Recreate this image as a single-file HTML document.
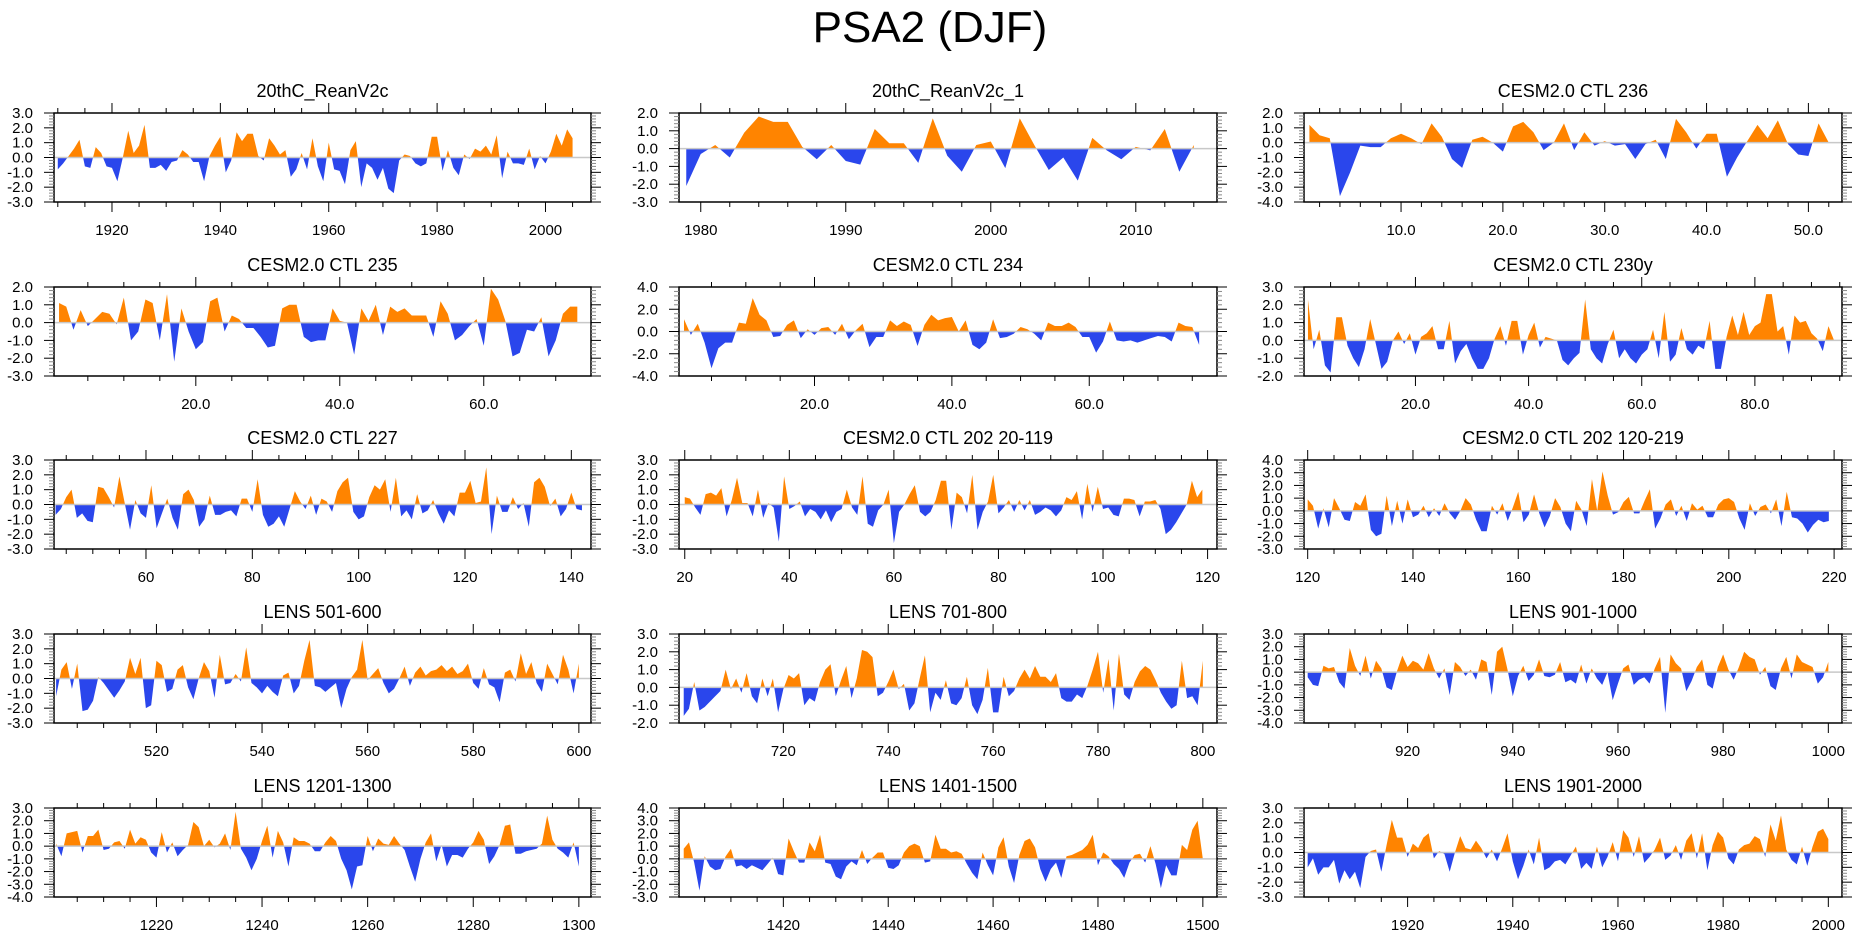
<!DOCTYPE html>
<html><head><meta charset="utf-8"><style>
body{margin:0;background:#fff;}
svg{display:block;font-family:"Liberation Sans",Arial,sans-serif;}
</style></head><body>
<svg id="chart" width="1861" height="936" viewBox="0 0 1861 936">
<text x="930" y="42" text-anchor="middle" font-size="44">PSA2 (DJF)</text>
</svg>
<script>
const titles = ["20thC_ReanV2c","20thC_ReanV2c_1","CESM2.0 CTL 236","CESM2.0 CTL 235","CESM2.0 CTL 234","CESM2.0 CTL 230y","CESM2.0 CTL 227","CESM2.0 CTL 202 20-119","CESM2.0 CTL 202 120-219","LENS 501-600","LENS 701-800","LENS 901-1000","LENS 1201-1300","LENS 1401-1500","LENS 1901-2000"];
const startYears = [1910,1979,1,1,1,1,43,20,120,501,701,901,1201,1401,1901];
const xDomains = [[1909.3,2008.4],[1978.5,2015.6],[0.47,53.3],[0.3,74.9],[0.27,78.6],[0.3,95.4],[42.7,143.7],[18.9,121.8],[119.3,221.5],[500.6,602.3],[700.1,802.7],[900.3,1002.6],[1200.6,1302.3],[1400.1,1502.7],[1900.3,2002.6]];
const yDomains = [[-3,3],[-3,2],[-4,2],[-3,2],[-4,4],[-2,3],[-3,3],[-3,3],[-3,4],[-3,3],[-2,3],[-4,3],[-4,3],[-3,4],[-3,3]];
const xMajorSteps = [20,10,10,20,20,20,20,20,20,20,20,20,20,20,20];
const xMinorSteps = [5,2,2,5,5,5,5,5,5,5,5,5,5,5,5];
const xDecimals = [0,0,1,1,1,1,0,0,0,0,0,0,0,0,0];
const yLabelSteps = [1,1,1,1,2,1,1,1,1,1,1,1,1,1,1];

const s0 = [-0.8,-0.4,0.1,0.6,1.2,-0.6,-0.7,0.7,0.3,-0.6,-0.7,-1.6,0.0,1.8,0.3,0.8,2.2,-0.7,-0.7,-0.5,-0.9,-0.3,-0.2,0.5,0.2,-0.3,-0.3,-1.6,0.1,0.8,1.4,-1.0,-0.2,1.7,1.1,1.6,1.6,0.1,-0.2,1.3,0.8,0.2,0.5,-1.3,-0.8,0.3,-0.8,1.3,-0.6,-1.6,1.0,-0.8,-0.9,-1.8,0.5,1.1,-2.0,-0.4,-0.7,-1.5,-0.7,-2.1,-2.4,-0.2,0.2,0.1,-0.4,-0.6,-0.4,1.4,1.4,-0.9,0.5,-0.7,-1.2,0.2,-0.1,0.6,0.4,0.8,0.2,1.5,-1.4,0.4,-0.4,-0.4,-0.5,0.6,-0.8,0.1,-0.4,0.4,1.6,0.8,1.9,1.3];
const s1 = [-2.1,-0.3,0.2,-0.5,0.9,1.8,1.5,1.5,0.1,-0.6,0.2,-0.7,-0.9,1.1,0.3,0.3,-0.8,1.7,-0.4,-1.3,0.2,0.4,-1.1,1.7,0.2,-1.2,-0.5,-1.8,0.6,-0.1,-0.6,0.1,-0.1,1.1,-1.3,0.2];
const s2 = [1.2,0.5,0.3,-3.6,-2.0,-0.2,-0.3,-0.3,0.3,0.6,0.3,-0.1,1.3,0.4,-1.1,-1.7,0.2,0.4,0.0,-0.6,1.1,1.4,0.7,-0.5,0.0,1.3,-0.5,0.7,-0.2,0.1,-0.2,-0.1,-1.1,-0.1,0.2,-1.1,1.6,0.7,-0.4,0.6,0.6,-2.3,-1.0,0.1,1.2,0.3,1.5,-0.1,-0.8,-0.9,1.3,0.0];
const s3 = [1.1,0.9,-0.4,0.7,-0.2,0.2,0.6,0.5,-0.1,1.4,-1.0,-0.5,1.3,1.1,-1.0,1.6,-2.2,0.8,-0.5,-1.5,-1.1,1.2,1.4,-0.5,0.4,0.2,-0.3,-0.3,-0.8,-1.4,-1.3,0.8,1.0,1.0,-0.8,-1.1,-1.0,-1.0,0.8,0.1,0.0,-1.8,0.8,0.1,1.0,-0.7,0.9,0.6,0.8,0.4,0.4,0.4,-0.8,1.2,0.5,-1.0,-0.7,-0.2,0.2,-1.3,1.9,1.3,0.1,-1.9,-1.7,-0.4,-0.5,0.3,-1.9,-1.0,0.5,0.9,0.9];
const s4 = [1.1,-0.3,0.7,-1.0,-3.3,-1.5,-1.0,-1.0,0.8,0.7,3.0,1.5,1.0,-0.5,-0.4,0.6,1.0,-0.6,0.2,-0.3,0.3,0.4,-0.3,0.7,-0.7,0.1,0.7,-1.4,-0.5,-0.5,1.0,0.5,0.9,0.6,-1.3,0.6,1.5,1.0,1.2,1.3,0.0,1.0,-1.2,-1.6,-1.0,1.1,-0.6,-0.5,-0.2,0.4,0.2,-0.2,-0.8,0.8,0.5,0.5,0.8,0.4,-0.5,-0.5,-1.9,-0.9,0.9,-0.8,-0.9,-0.8,-1.0,-0.8,-0.6,-0.4,-0.5,-0.9,0.8,0.5,0.4,-1.2];
const s5 = [2.3,-0.5,0.6,-1.4,-1.8,1.3,1.3,-0.3,-1.0,-1.5,-0.5,1.2,-0.2,-1.6,-1.2,0.0,0.5,-0.2,0.4,-0.8,0.2,0.4,0.8,-0.5,-0.5,1.1,-1.3,-0.6,-0.2,-1.0,-1.6,-1.6,-1.0,0.1,0.8,-0.3,1.1,1.1,-0.8,0.3,1.0,-0.4,0.2,0.1,0.0,-1.1,-1.4,-1.0,-0.7,2.3,-0.5,-1.0,-1.3,-0.2,0.6,-1.0,-0.5,-1.0,-1.3,-0.8,-0.5,0.6,-1.0,1.6,-1.2,-0.8,0.7,-0.5,-0.8,-0.3,-0.5,1.1,-1.6,-1.6,0.2,1.4,0.3,1.6,0.3,0.8,1.0,2.6,2.6,0.5,0.8,-0.8,1.4,1.0,1.1,0.4,0.1,-0.6,0.8,0.0];
const s6 = [-0.7,-0.3,0.5,1.0,-0.9,-0.6,-1.1,-1.2,1.2,1.1,0.5,-0.2,1.9,0.1,-1.7,0.3,-0.6,-0.9,1.3,-1.6,-0.6,0.4,-0.9,-1.7,0.7,1.0,0.3,-1.5,-1.0,0.6,-0.7,-0.7,-0.5,-0.4,-0.8,0.4,0.4,-0.5,1.7,-0.7,-1.5,-1.3,-0.8,-1.5,-0.3,0.9,0.2,-0.3,0.6,-0.7,0.4,0.2,-0.5,0.9,1.5,1.8,-0.5,-1.0,-0.8,0.5,1.3,1.0,1.7,-0.5,1.8,-0.8,-0.4,-1.0,0.7,-0.6,-0.4,0.3,-0.6,-1.3,-0.4,-0.8,0.8,0.8,1.6,0.1,0.2,2.5,-2.0,0.6,-0.5,-0.5,0.5,-0.3,0.1,-1.5,1.5,1.8,1.2,-0.1,0.4,-0.8,-0.3,0.8,-0.3,-0.4];
const s7 = [0.5,0.4,-0.2,-0.7,0.7,0.8,0.6,1.1,-0.8,0.3,1.8,0.1,0.1,-0.8,1.0,-0.9,0.1,-0.2,-2.5,1.9,-0.3,-0.1,0.2,-0.8,-0.3,-0.5,-1.0,-0.4,-1.2,-0.5,-0.3,1.0,-0.2,-0.7,1.9,-1.3,-1.5,-0.4,0.0,1.0,-2.6,-0.5,0.0,0.7,1.3,-0.5,-0.8,-0.5,0.3,1.6,1.6,-1.7,0.8,0.5,-0.6,2.0,-1.7,-0.5,0.2,2.0,-0.6,-0.2,0.3,-0.5,0.3,-0.4,0.3,-0.7,-0.5,-0.2,-0.4,-0.8,-0.4,0.5,0.3,0.9,-1.0,1.4,-0.5,1.2,-0.3,-0.2,-0.7,-0.8,0.4,0.4,0.3,-0.8,0.2,0.2,0.3,-0.3,-2.0,-1.7,-1.2,-0.6,0.0,1.6,0.5,1.0];
const s8 = [0.9,0.4,-1.4,0.2,-1.3,1.0,0.2,-0.7,-0.8,0.7,0.4,1.3,-1.5,-2.0,-1.8,1.2,-1.2,0.8,-1.0,0.9,-0.5,-0.3,0.4,-0.5,0.2,-0.4,0.6,-0.2,-0.7,0.0,1.0,0.5,-0.7,-1.6,-1.6,0.4,-0.3,0.6,-0.8,0.3,1.5,-0.9,-0.3,1.3,-0.2,-1.3,-0.4,1.0,0.3,-1.0,-1.6,0.8,0.1,-1.2,2.5,0.0,3.1,1.2,-0.3,-0.1,0.7,1.1,-0.2,-0.2,0.8,1.7,-1.4,-0.6,0.5,0.9,-0.4,0.4,-0.8,0.6,0.1,0.4,-0.5,-0.5,0.5,0.9,1.0,0.7,-0.6,-1.5,0.6,-0.4,0.3,0.5,-0.2,0.9,-1.2,1.5,-0.5,-0.6,-1.0,-1.7,-1.1,-0.7,-0.9,-0.8];
const s9 = [-1.2,0.6,1.1,-0.7,1.0,-2.2,-2.1,-1.5,0.1,-0.3,-0.8,-1.3,-0.8,-0.2,1.4,0.3,1.4,-2.0,-1.8,1.2,0.9,-0.9,-0.7,0.6,0.9,-0.6,-1.4,0.0,1.1,0.5,-1.3,1.6,-0.4,-0.3,0.3,-0.2,2.1,-0.3,-0.6,-1.0,-0.5,-0.9,-1.2,0.2,0.4,-1.0,-0.5,1.2,2.6,-0.5,-0.6,-0.9,-0.6,-0.3,-2.0,-0.7,0.1,0.6,2.6,-0.1,0.3,0.7,-0.3,-1.0,-0.7,0.0,0.8,-0.5,0.4,0.8,0.2,0.5,0.6,0.9,0.5,0.8,0.3,0.5,1.0,-0.3,-0.7,0.7,-0.4,-0.6,-1.6,0.4,0.6,-0.2,1.7,0.3,1.1,-0.3,-0.9,1.0,0.3,-0.4,1.6,0.6,-1.0,1.0];
const s10 = [-1.6,-1.2,0.3,-1.3,-1.1,-0.8,-0.5,-0.2,1.0,-0.1,0.5,-0.3,0.8,-0.5,-0.9,0.5,-0.5,0.5,-1.4,-0.1,0.7,0.5,0.8,-1.0,-0.6,-0.8,0.3,1.0,1.3,-0.5,0.4,1.2,-0.6,0.5,2.1,2.0,1.7,-0.5,-0.3,0.3,1.0,-0.1,0.2,-1.3,-0.9,0.5,1.8,-1.4,-0.3,-0.7,0.4,-0.9,-1.0,-0.6,0.6,-1.0,-1.5,-0.7,1.1,-1.4,-1.4,0.6,-0.5,-0.2,0.5,1.0,0.5,1.2,0.6,0.6,0.3,0.8,-0.6,-0.8,-0.8,-0.4,-0.6,0.1,1.0,2.0,-0.3,1.6,-1.3,1.9,-0.4,-0.7,0.3,0.9,1.2,1.0,0.4,-0.3,-0.8,-1.2,-1.0,1.5,-0.6,-0.5,-1.0,1.5];
const s11 = [-0.4,-1.0,-1.1,0.5,0.3,0.4,-0.8,-1.3,1.9,0.5,-0.3,1.3,-0.5,0.9,0.3,-1.2,-1.4,0.1,1.3,0.4,0.9,0.7,0.2,1.5,0.3,-0.5,0.3,-1.8,0.8,0.4,-0.3,0.2,-0.6,1.0,0.8,-1.8,1.6,2.0,0.2,-1.9,-0.3,0.5,-0.7,-0.2,1.0,-0.3,-0.4,-0.2,0.8,-0.8,-0.6,-0.9,0.6,-0.9,0.3,-0.5,-1.0,0.0,-2.2,-0.9,0.3,0.6,-1.0,-0.6,-0.4,-0.9,0.3,1.2,-3.2,1.4,0.7,0.3,-1.5,-0.7,0.4,1.0,-1.0,-1.3,0.4,1.4,0.2,-0.6,0.4,1.6,1.2,1.0,-0.2,0.4,-1.1,-1.4,0.3,1.2,-0.5,1.4,0.8,0.6,0.4,-0.9,-0.4,0.8];
const s12 = [0.2,-0.8,1.0,1.1,1.2,-0.5,0.8,0.8,1.3,-0.3,-0.2,0.3,0.4,-0.2,1.3,0.2,0.7,0.5,-0.5,-0.9,1.1,-0.5,0.3,-0.8,-0.3,0.1,1.9,1.5,0.0,0.5,-0.1,0.2,1.0,-0.3,2.7,-0.2,-0.9,-1.9,-1.0,0.4,1.6,-0.9,1.2,0.3,-1.6,0.7,0.4,0.4,0.2,-0.4,-0.4,0.3,0.8,0.4,-1.0,-1.9,-3.4,-1.6,-1.5,0.8,-0.4,0.6,0.2,0.1,0.8,0.2,-0.3,-1.6,-2.8,-1.0,0.3,1.0,-1.2,0.1,-1.6,-0.7,-0.7,-0.9,-0.2,0.3,1.2,0.5,-1.4,-0.8,0.1,1.6,1.7,-0.6,-0.6,-0.4,-0.3,-0.2,0.2,2.4,0.5,-0.2,-0.5,-0.9,0.3,-1.6];
const s13 = [0.8,1.3,-0.3,-2.5,0.2,-0.6,-0.9,-0.8,0.2,0.8,-0.6,-0.5,-0.8,-0.5,-0.7,-0.9,-0.4,0.1,-1.2,-1.3,1.6,0.6,-0.3,-0.3,1.3,0.6,1.9,-0.3,-0.4,-1.4,-1.6,-0.6,-0.2,-0.5,0.7,-0.4,0.1,0.5,0.5,-0.7,-0.8,-0.5,0.5,1.0,1.2,1.0,-0.3,-0.2,1.9,0.8,0.8,0.5,0.6,0.4,-0.4,-1.1,-1.6,0.5,-0.5,-1.3,0.9,1.7,-0.6,-1.9,0.3,1.4,1.6,0.9,-0.8,-1.8,-0.8,-0.3,-1.5,0.2,0.3,0.5,0.7,1.1,1.9,-0.5,0.5,0.2,-0.4,-0.8,-1.5,-0.3,0.3,0.4,-0.3,1.0,-0.4,-2.3,-0.5,-1.3,-1.3,1.1,0.7,2.3,3.0,0.0];
const s14 = [-1.0,-0.4,-1.5,-1.0,-1.0,-0.5,-2.1,-1.2,-1.8,-1.3,-2.4,-0.3,0.1,0.2,-1.3,0.5,2.2,1.0,1.0,-0.3,0.6,0.3,1.0,1.3,-0.4,0.1,-0.1,-1.3,0.0,1.1,0.3,0.2,0.8,0.3,-0.4,0.2,-0.6,0.3,1.3,-0.6,-1.8,-0.9,0.2,-0.8,1.0,-1.2,-1.0,-0.6,-0.5,-0.8,-0.2,0.4,-1.1,-0.7,-1.1,0.4,-1.0,-0.3,0.7,-0.6,1.5,1.0,-0.3,1.1,-0.7,-0.3,0.2,1.0,-0.5,-0.2,0.5,-0.5,0.8,1.3,-0.4,1.3,-1.2,0.5,1.4,1.0,-0.4,-0.8,0.2,0.5,0.6,1.1,0.9,-0.3,1.9,0.8,2.5,0.2,-0.5,-0.8,0.4,-0.9,0.4,1.4,1.6,0.9];
const seriesValues = [s0,s1,s2,s3,s4,s5,s6,s7,s8,s9,s10,s11,s12,s13,s14];

const colX = [[54,591],[679,1217],[1304,1842]];
const rowTop = [113,287,460,634,808];
const H = 89;
const NS = "http://www.w3.org/2000/svg";
const svg = document.getElementById('chart');
function mk(tag, attrs, parent){const e=document.createElementNS(NS,tag);for(const k in attrs)e.setAttribute(k,attrs[k]);(parent||svg).appendChild(e);return e;}
const defs = mk('defs',{});

for(let p=0;p<15;p++){
  const c=p%3, r=Math.floor(p/3);
  const L=colX[c][0], R=colX[c][1], T=rowTop[r], B=T+H;
  const [xmin,xmax]=xDomains[p], [ymin,ymax]=yDomains[p];
  const sx=v=>L+(v-xmin)/(xmax-xmin)*(R-L);
  const sy=v=>B-(v-ymin)/(ymax-ymin)*H;
  const g=mk('g',{});
  
  
  const t=mk('text',{x:(L+R)/2,y:T-16,'text-anchor':'middle','font-size':18},g);
  t.textContent=titles[p];
  
  
  const y0=sy(0);
  const cpA=mk('clipPath',{id:'ca'+p},defs); mk('rect',{x:L,y:T,width:R-L,height:y0-T},cpA);
  const cpB=mk('clipPath',{id:'cb'+p},defs); mk('rect',{x:L,y:y0,width:R-L,height:B-y0},cpB);
  const vals=seriesValues[p];
  let pts=sx(startYears[p]).toFixed(2)+','+y0.toFixed(2);
  vals.forEach((v,i)=>{pts+=' '+sx(startYears[p]+i).toFixed(2)+','+sy(v).toFixed(2);});
  pts+=' '+sx(startYears[p]+vals.length-1).toFixed(2)+','+y0.toFixed(2);
  const pa=mk('polygon',{points:pts,fill:'#ff8400','clip-path':'url(#ca'+p+')'},g);
  
  
  const pb=mk('polygon',{points:pts,fill:'#2a46ec','clip-path':'url(#cb'+p+')'},g);
  
  
  const zl=mk('line',{x1:L,x2:R,y1:y0,y2:y0,stroke:'#c8c8c8','stroke-width':1.5},g);
  
  
  mk('rect',{x:L,y:T,width:R-L,height:H,fill:'none',stroke:'#000','stroke-width':1.5},g);
  const ymStep=yLabelSteps[p]===2?0.4:0.2;
  for(let k=Math.round(ymin/ymStep);k<=Math.round(ymax/ymStep);k++){
    const v=k*ymStep, y=sy(v);
    const isMaj=Math.abs(v-Math.round(v))<1e-6;
    const len=isMaj?10:5;
    mk('line',{x1:L-len,x2:L,y1:y,y2:y,stroke:isMaj?'#000':'#888','stroke-width':1},g);
    mk('line',{x1:R,x2:R+len,y1:y,y2:y,stroke:isMaj?'#000':'#888','stroke-width':1},g);
  }
  for(let v=ymin;v<=ymax;v+=yLabelSteps[p]){
    const tl=mk('text',{x:L-21,y:sy(v)+5,'text-anchor':'end','font-size':15},g);
    tl.textContent=v.toFixed(1);
    
    
  }
  const mi=xMinorSteps[p], ma=xMajorSteps[p];
  for(let v=Math.ceil(xmin/mi)*mi; v<=xmax; v+=mi){
    const x=sx(v), isMaj=Math.abs(v/ma-Math.round(v/ma))<1e-6;
    const len=isMaj?10:5;
    mk('line',{x1:x,x2:x,y1:T-len,y2:T,stroke:'#000','stroke-width':1},g);
    mk('line',{x1:x,x2:x,y1:B,y2:B+len,stroke:'#000','stroke-width':1},g);
    if(isMaj){
      const xl=mk('text',{x:x,y:B+33,'text-anchor':'middle','font-size':15},g);
      xl.textContent=v.toFixed(xDecimals[p]);
      
      
    }
  }
}
</script>
</body></html>
